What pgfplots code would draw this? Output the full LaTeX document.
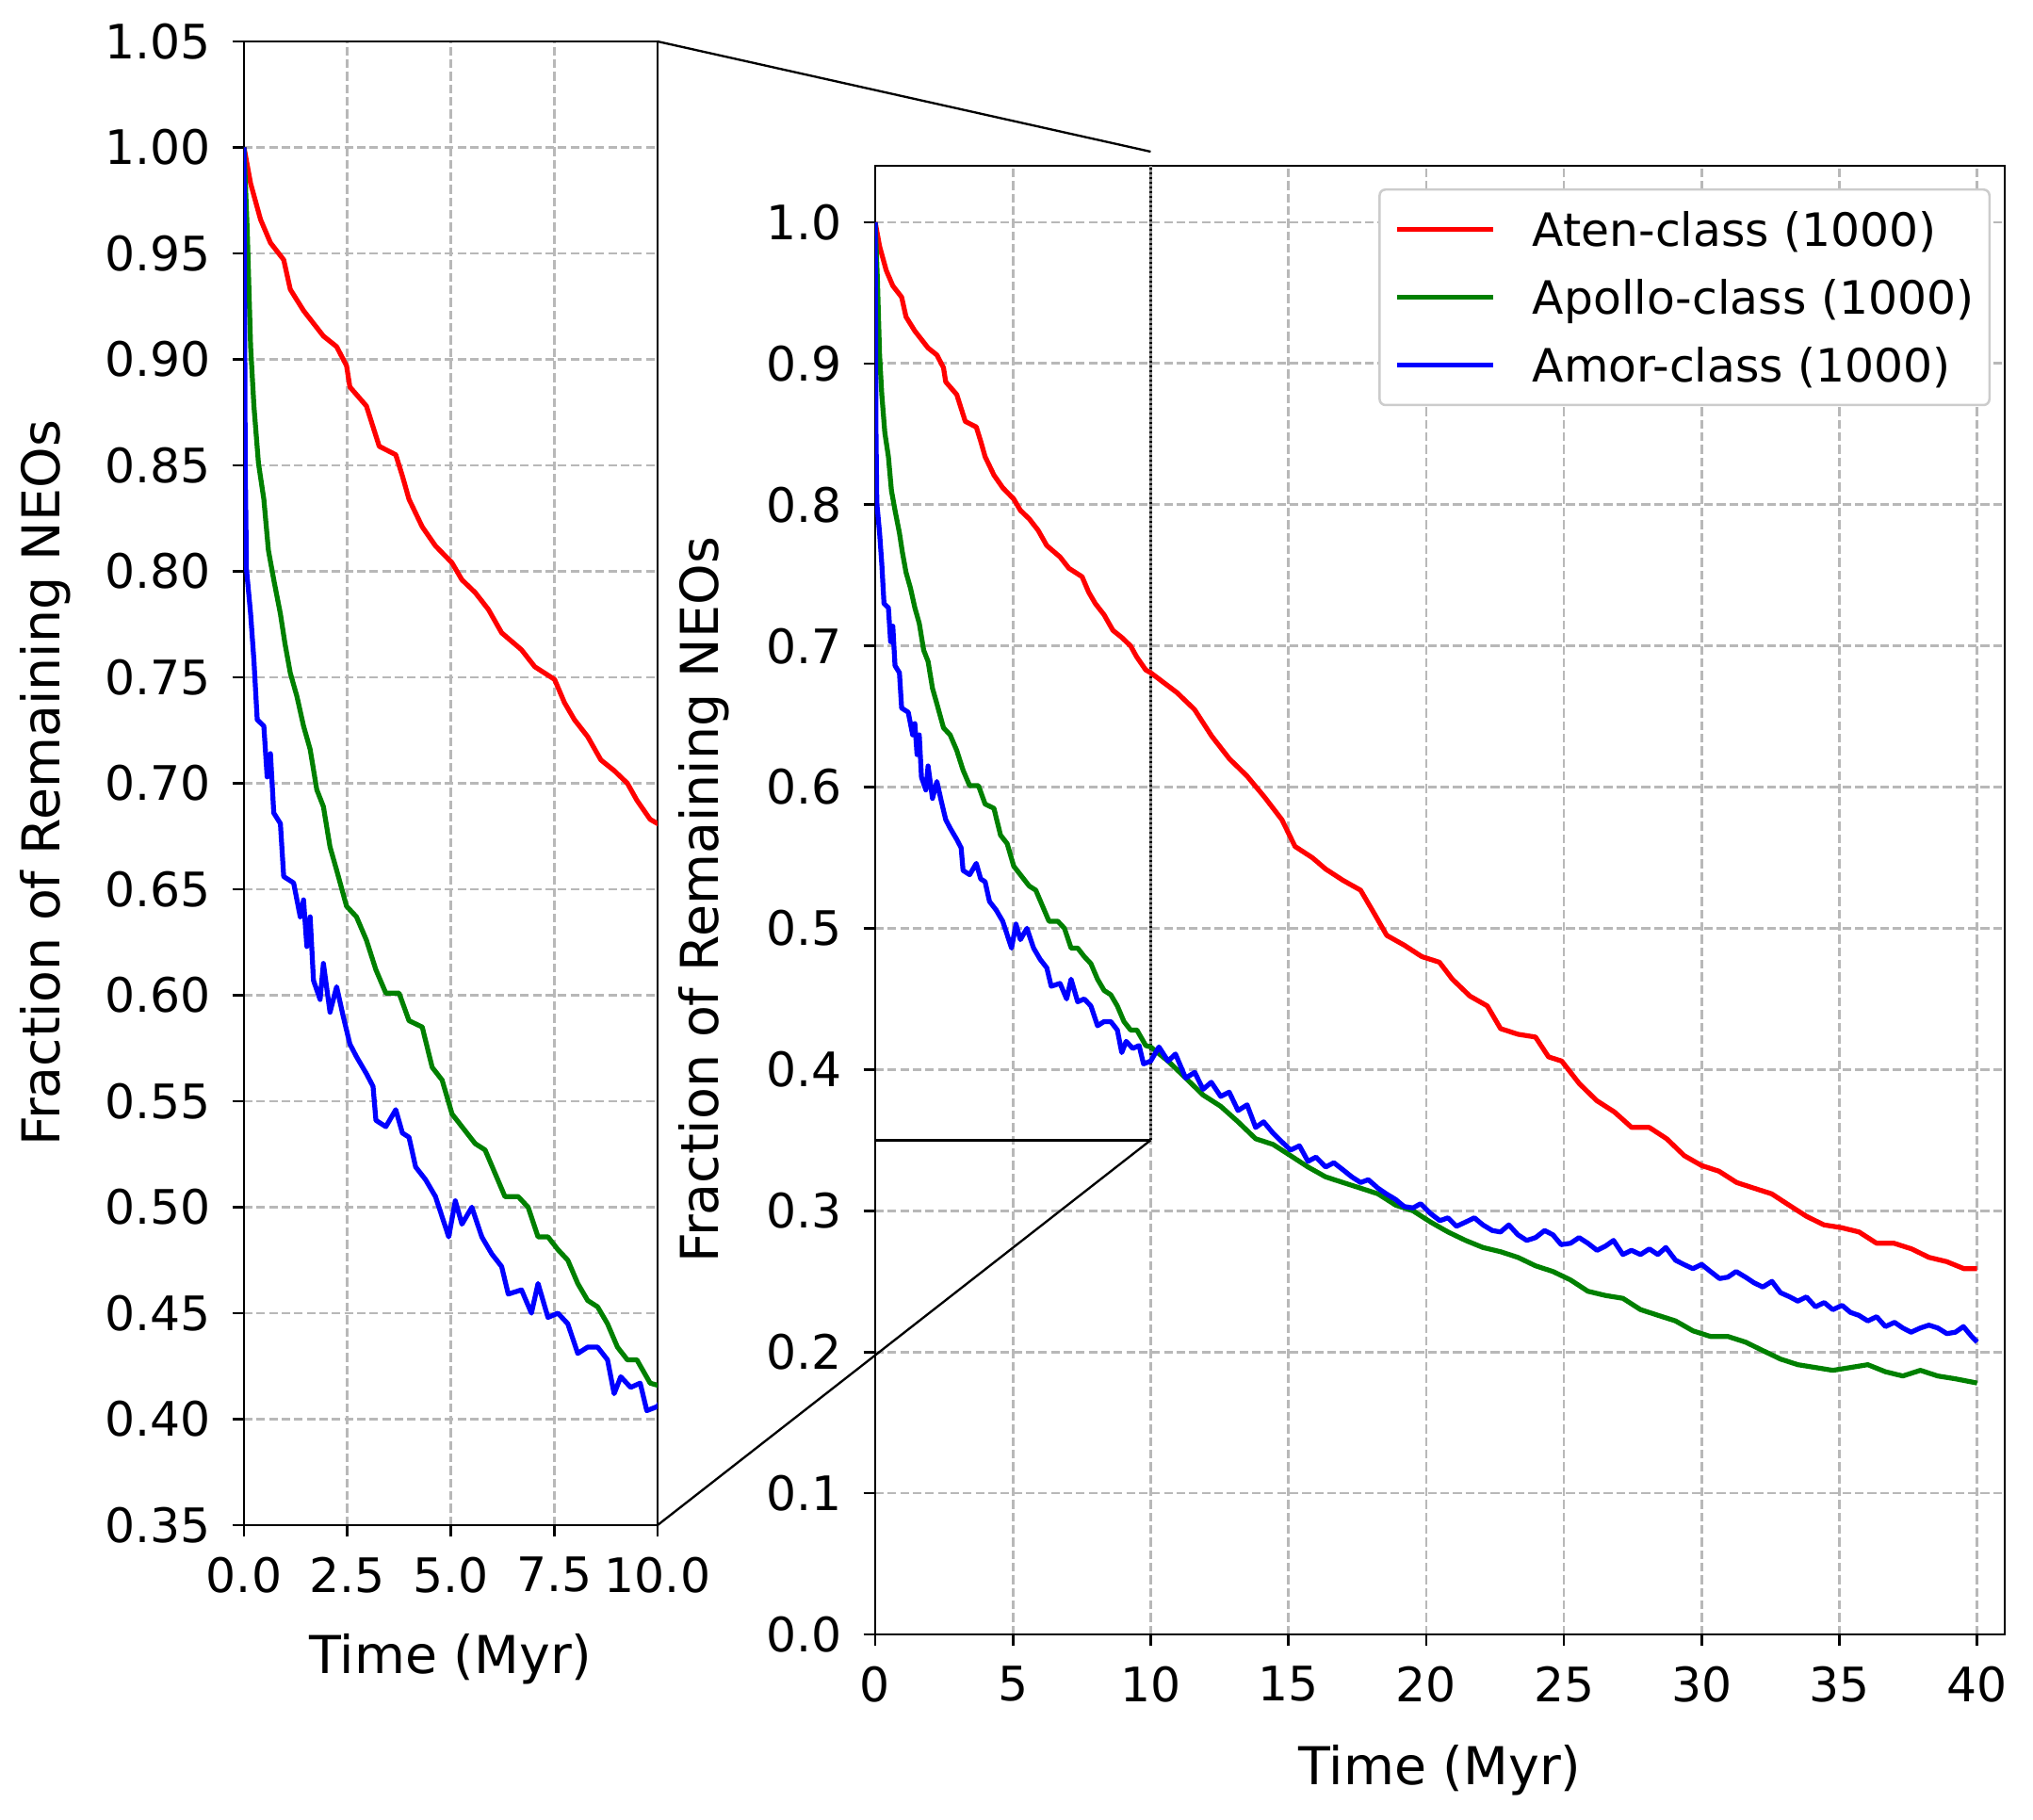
\documentclass[border=0pt]{standalone}
\usepackage{fontspec}
\setmainfont{DejaVu Sans}
\usepackage{pgfplots}
\pgfplotsset{compat=1.18}
\usepackage{pgfplotstable}

\pgfplotstableread{
x y
0 1.000
0.16 0.983
0.4 0.966
0.64 0.955
0.96 0.947
1.12 0.933
1.44 0.923
1.92 0.911
2.24 0.906
2.48 0.897
2.56 0.887
2.96 0.878
3.27 0.859
3.67 0.855
3.83 0.845
3.99 0.834
4.31 0.821
4.63 0.812
5.03 0.804
5.27 0.796
5.59 0.790
5.91 0.782
6.23 0.771
6.71 0.763
7.03 0.755
7.51 0.749
7.75 0.738
7.99 0.730
8.31 0.722
8.63 0.711
8.95 0.706
9.27 0.700
9.50 0.692
9.82 0.683
10.0 0.681
10.95 0.667
11.59 0.655
12.22 0.636
12.86 0.620
13.49 0.608
14.13 0.593
14.76 0.577
15.24 0.558
15.87 0.550
16.35 0.542
16.98 0.534
17.62 0.527
18.10 0.511
18.57 0.495
19.21 0.488
19.84 0.480
20.48 0.476
20.95 0.464
21.59 0.452
22.22 0.445
22.70 0.429
23.33 0.425
23.97 0.423
24.44 0.409
24.92 0.406
25.56 0.390
26.19 0.378
26.83 0.370
27.46 0.359
28.10 0.359
28.73 0.351
29.37 0.339
30.00 0.332
30.63 0.328
31.27 0.320
31.90 0.316
32.54 0.312
33.17 0.304
33.81 0.296
34.44 0.290
35.08 0.288
35.71 0.285
36.35 0.277
36.98 0.277
37.62 0.273
38.25 0.267
38.89 0.264
39.52 0.259
40.00 0.259
}\aten

\pgfplotstableread{
x y
0 1.000
0.08 0.960
0.16 0.906
0.24 0.878
0.35 0.851
0.48 0.834
0.59 0.810
0.72 0.796
0.88 0.780
0.99 0.766
1.12 0.752
1.28 0.741
1.44 0.727
1.60 0.716
1.76 0.697
1.92 0.689
2.08 0.670
2.24 0.659
2.48 0.642
2.72 0.637
2.96 0.626
3.19 0.612
3.43 0.601
3.75 0.601
3.99 0.588
4.31 0.585
4.55 0.566
4.79 0.560
5.03 0.544
5.27 0.538
5.59 0.530
5.83 0.527
6.07 0.516
6.31 0.505
6.63 0.505
6.87 0.500
7.11 0.486
7.35 0.486
7.59 0.480
7.83 0.475
8.07 0.464
8.31 0.456
8.55 0.453
8.79 0.445
9.03 0.434
9.27 0.428
9.50 0.428
9.82 0.417
10.0 0.416
10.63 0.406
11.27 0.394
11.90 0.382
12.54 0.374
13.17 0.363
13.81 0.351
14.44 0.347
15.08 0.339
15.71 0.331
16.35 0.324
16.98 0.320
17.62 0.316
18.25 0.312
18.89 0.304
19.52 0.300
20.16 0.292
20.79 0.285
21.43 0.279
22.06 0.274
22.70 0.271
23.33 0.267
23.97 0.261
24.60 0.257
25.24 0.251
25.87 0.243
26.51 0.240
27.14 0.238
27.78 0.230
28.41 0.226
29.05 0.222
29.68 0.215
30.32 0.211
30.95 0.211
31.59 0.207
32.22 0.201
32.86 0.195
33.49 0.191
34.13 0.189
34.76 0.187
35.40 0.189
36.03 0.191
36.67 0.186
37.30 0.183
37.94 0.187
38.57 0.183
39.21 0.181
40.00 0.178
}\apollo

\pgfplotstableread{
x y
0 1.000
0.03 0.851
0.06 0.801
0.16 0.780
0.24 0.758
0.32 0.730
0.48 0.727
0.56 0.703
0.64 0.714
0.72 0.686
0.88 0.681
0.96 0.656
1.20 0.653
1.36 0.637
1.44 0.645
1.52 0.623
1.60 0.637
1.68 0.607
1.84 0.598
1.92 0.615
2.08 0.592
2.24 0.604
2.40 0.590
2.56 0.577
2.72 0.571
2.96 0.563
3.12 0.557
3.19 0.541
3.43 0.538
3.67 0.546
3.83 0.535
3.99 0.533
4.15 0.519
4.39 0.513
4.63 0.505
4.95 0.486
5.11 0.503
5.27 0.492
5.51 0.500
5.75 0.486
5.99 0.478
6.23 0.472
6.39 0.459
6.71 0.461
6.95 0.450
7.11 0.464
7.35 0.448
7.59 0.450
7.83 0.445
8.07 0.431
8.31 0.434
8.55 0.434
8.79 0.428
8.95 0.412
9.11 0.420
9.35 0.415
9.58 0.417
9.74 0.404
10.0 0.406
10.30 0.416
10.63 0.406
10.90 0.411
11.27 0.394
11.60 0.398
11.90 0.386
12.20 0.391
12.54 0.381
12.85 0.384
13.17 0.371
13.50 0.375
13.81 0.359
14.10 0.363
14.44 0.355
14.75 0.349
15.08 0.343
15.40 0.346
15.71 0.335
16.00 0.338
16.35 0.331
16.65 0.334
16.98 0.329
17.30 0.324
17.62 0.320
17.90 0.322
18.25 0.316
18.55 0.312
18.89 0.308
19.20 0.303
19.52 0.302
19.80 0.305
20.16 0.298
20.50 0.293
20.79 0.295
21.10 0.289
21.43 0.292
21.75 0.295
22.06 0.290
22.40 0.286
22.70 0.285
23.00 0.290
23.33 0.283
23.65 0.279
23.97 0.281
24.30 0.286
24.60 0.283
24.90 0.276
25.24 0.277
25.55 0.281
25.87 0.277
26.20 0.272
26.51 0.275
26.80 0.279
27.14 0.269
27.45 0.272
27.78 0.269
28.10 0.273
28.41 0.269
28.70 0.274
29.05 0.265
29.35 0.262
29.68 0.259
30.00 0.262
30.32 0.257
30.65 0.252
30.95 0.253
31.25 0.257
31.59 0.253
31.90 0.249
32.22 0.246
32.55 0.250
32.86 0.242
33.20 0.239
33.49 0.236
33.80 0.239
34.13 0.232
34.45 0.235
34.76 0.230
35.10 0.233
35.40 0.228
35.70 0.226
36.03 0.222
36.35 0.225
36.67 0.218
37.00 0.221
37.30 0.217
37.60 0.214
37.94 0.217
38.25 0.219
38.57 0.217
38.90 0.213
39.21 0.214
39.50 0.218
39.80 0.211
40.00 0.207
}\amor

\newcommand\fs{\fontsize{12.1pt}{14.5pt}\selectfont}
\newcommand\fl{\fontsize{13.3pt}{16pt}\selectfont}
\newcommand\fg{\fontsize{11.7pt}{14pt}\selectfont}
\definecolor{mplgreen}{rgb}{0,0.5,0}

\pgfplotsset{
  base/.style={
    scale only axis,
    axis line style={line width=0.64pt},
    tick style={black, line width=0.64pt},
    tick align=outside,
    major tick length=2.95pt,
    tick pos=left,
    grid=major,
    major grid style={black!28, line width=0.65pt, dash pattern=on 2.2pt off 1pt},
    tick label style={font=\fs},
    xticklabel style={inner sep=0pt, anchor=north, yshift=-4.95pt},
    yticklabel style={inner sep=0pt, anchor=east, xshift=-5.25pt},
    every axis plot/.append style={line width=1.25pt, line join=round},
  }
}

\begin{document}
\begin{tikzpicture}
\path[use as bounding box] (0,0) rectangle (517.92pt,463.68pt);

\begin{axis}[base, name=left,
  at={(62.16pt,75.12pt)}, anchor=south west,
  width=105.36pt, height=378pt,
  xmin=0, xmax=10, ymin=0.35, ymax=1.05,
  xtick={0,2.5,5,7.5,10},
  xticklabels={0.0,2.5,5.0,7.5,10.0},
  ytick={0.35,0.40,0.45,0.50,0.55,0.60,0.65,0.70,0.75,0.80,0.85,0.90,0.95,1.00,1.05},
  yticklabels={0.35,0.40,0.45,0.50,0.55,0.60,0.65,0.70,0.75,0.80,0.85,0.90,0.95,1.00,1.05},
  xlabel={Time (Myr)},
  ylabel={Fraction of Remaining NEOs},
  every axis x label/.style={at={(rel axis cs:0.5,0)}, anchor=base, yshift=-37.7pt, font=\fl},
  every axis y label/.style={at={(rel axis cs:0,0.5)}, xshift=-50.64pt, rotate=90, anchor=center, font=\fl},
]
\addplot[red] table {\aten};
\addplot[mplgreen] table {\apollo};
\addplot[blue] table {\amor};
\end{axis}

\begin{axis}[base, name=right,
  at={(222.96pt,47.28pt)}, anchor=south west,
  width=287.76pt, height=374.16pt,
  xmin=0, xmax=41, ymin=0, ymax=1.04,
  xtick={0,5,10,15,20,25,30,35,40},
  xticklabels={0,5,10,15,20,25,30,35,40},
  ytick={0,0.1,0.2,0.3,0.4,0.5,0.6,0.7,0.8,0.9,1.0},
  yticklabels={0.0,0.1,0.2,0.3,0.4,0.5,0.6,0.7,0.8,0.9,1.0},
  xlabel={Time (Myr)},
  ylabel={Fraction of Remaining NEOs},
  every axis x label/.style={at={(rel axis cs:0.5,0)}, anchor=base, yshift=-38.4pt, font=\fl},
  every axis y label/.style={at={(rel axis cs:0,0.5)}, xshift=-43.68pt, rotate=90, anchor=center, font=\fl},
  legend cell align=left,
  legend image code/.code={\draw[#1, line width=1.1pt] (0pt,0pt) -- (24.5pt,0pt);},
  legend style={at={(0.9875,0.9846)}, anchor=north east,
    draw=black!20, line width=0.6pt, rounded corners=1.5pt, fill=white,
    inner xsep=4pt, inner ysep=5.9pt, row sep=8.8pt, column sep=9.4pt,
    nodes={inner sep=0pt, text height=8.5pt, text depth=0pt, font=\fg},
    cells={anchor=west}},
]
\addplot[black!45, line width=0.9pt, forget plot] coordinates {(10,0.35) (10,1.04)};
\addplot[black, line width=0.55pt, dash pattern=on 0.5pt off 0.7pt, forget plot] coordinates {(10,0.35) (10,1.04)};
\addplot[black, line width=0.6pt, forget plot] coordinates {(0,0.35) (10,0.35)};
\addplot[red] table {\aten};
\addlegendentry{Aten-class (1000)}
\addplot[mplgreen] table {\apollo};
\addlegendentry{Apollo-class (1000)}
\addplot[blue] table {\amor};
\addlegendentry{Amor-class (1000)}
\coordinate (RT) at (axis cs:10,1.05);
\coordinate (RB) at (axis cs:10,0.35);
\end{axis}

\draw[line width=0.56pt] (left.north east) -- (RT);
\draw[line width=0.56pt] (left.south east) -- (RB);
\end{tikzpicture}
\end{document}
